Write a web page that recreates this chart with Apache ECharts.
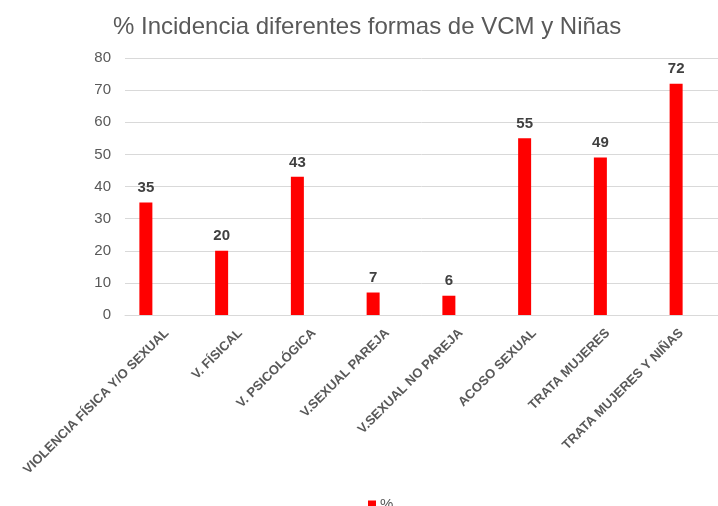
<!DOCTYPE html>
<html>
<head>
<meta charset="utf-8">
<script src="https://cdn.jsdelivr.net/npm/echarts@6/dist/echarts.min.js"></script>
<style>
  html, body { margin: 0; padding: 0; background: #fff; }
  #chart { width: 718px; height: 506px; }
</style>
</head>
<body>
<div id="chart"></div>
<script>
const categories = [
  "VIOLENCIA FÍSICA Y/O SEXUAL",
  "V. FÍSICAL",
  "V. PSICOLÓGICA",
  "V.SEXUAL PAREJA",
  "V.SEXUAL NO PAREJA",
  "ACOSO SEXUAL",
  "TRATA MUJERES",
  "TRATA MUJERES Y NIÑAS"
];
const values = [35, 20, 43, 7, 6, 55, 49, 72];
const yTicks = { min: 0, max: 80, interval: 10 };
const seriesName = "%";

const chart = echarts.init(document.getElementById("chart"));

const gridTop = 58;
const gridBottom = 191;

const option = {
  animation: false,
  title: {
    text: "% Incidencia diferentes formas de VCM y Niñas",
    left: 108,
    top: 10,
    textStyle: { fontFamily: "Liberation Sans", fontSize: 24, fontWeight: "normal", color: "#595959" }
  },
  legend: {
    data: [seriesName],
    left: 363,
    top: 492,
    icon: "rect",
    itemWidth: 8,
    itemHeight: 8,
    itemGap: 4,
    textStyle: { fontFamily: "Liberation Sans", fontSize: 15, color: "#595959", padding: [0, 0, 0, -1] }
  },
  grid: [
    // gridlines + y labels
    { left: 125, right: 0, top: gridTop, bottom: gridBottom },
    // bars
    { left: 108, width: 606, top: gridTop, bottom: gridBottom },
    // category labels
    { left: 130, width: 606, top: gridTop, bottom: gridBottom }
  ],
  xAxis: [
    {
      gridIndex: 0, type: "category", data: categories,
      axisLine: { lineStyle: { color: "#d9d9d9", width: 1 } },
      axisTick: { show: false }, axisLabel: { show: false }
    },
    {
      gridIndex: 1, type: "category", data: categories,
      axisLine: { show: false }, axisTick: { show: false }, axisLabel: { show: false }
    },
    {
      gridIndex: 2, type: "category", data: categories,
      axisLine: { show: false }, axisTick: { show: false },
      axisLabel: {
        interval: 0, rotate: 45, margin: 16,
        fontFamily: "Liberation Sans", fontSize: 13, fontWeight: "bold", color: "#595959"
      }
    }
  ],
  yAxis: [
    {
      gridIndex: 0, type: "value",
      min: yTicks.min, max: yTicks.max, interval: yTicks.interval,
      axisLine: { show: false }, axisTick: { show: false },
      axisLabel: { margin: 14, fontFamily: "Liberation Sans", fontSize: 15, color: "#595959" },
      splitLine: { lineStyle: { color: "#d9d9d9", width: 1 } }
    },
    {
      gridIndex: 1, type: "value",
      min: yTicks.min, max: yTicks.max, interval: yTicks.interval,
      show: false
    },
    {
      gridIndex: 2, type: "value",
      min: yTicks.min, max: yTicks.max, interval: yTicks.interval,
      show: false
    }
  ],
  series: [
    {
      name: seriesName,
      type: "bar",
      xAxisIndex: 1,
      yAxisIndex: 1,
      data: values,
      barWidth: 13,
      itemStyle: { color: "#ff0000" },
      label: {
        show: true,
        position: "top",
        distance: 7,
        fontFamily: "Liberation Sans",
        fontSize: 15,
        fontWeight: "bold",
        color: "#404040"
      }
    }
  ]
};

chart.setOption(option);
</script>
</body>
</html>
